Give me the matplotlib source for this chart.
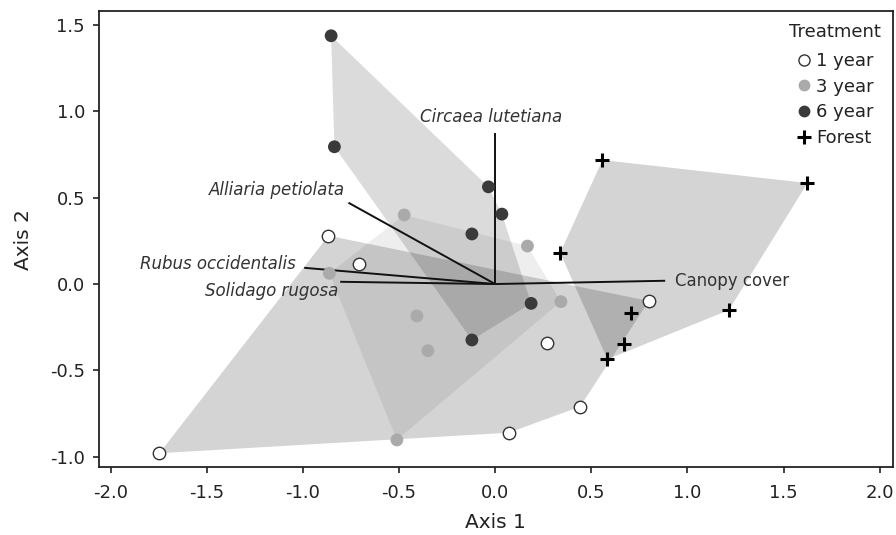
import matplotlib
matplotlib.use("Agg")
import matplotlib.pyplot as plt
from matplotlib.lines import Line2D
from matplotlib.patches import Polygon
import numpy as np

plt.rcParams['font.family'] = ['DejaVu Sans']

# ---- data ----
groups = ["1 year", "3 year", "6 year", "Forest"]

x_1yr = [-0.867, -0.707, -1.746, 0.799, 0.269, 0.442, 0.071]
y_1yr = [0.280, 0.118, -0.980, -0.098, -0.340, -0.710, -0.861]

x_3yr = [-0.473, 0.168, -0.862, 0.342, -0.407, -0.350, -0.511]
y_3yr = [0.400, 0.220, 0.062, -0.102, -0.185, -0.386, -0.903]

x_6yr = [-0.853, -0.836, -0.035, 0.035, -0.121, 0.187, -0.121]
y_6yr = [1.438, 0.795, 0.563, 0.405, 0.290, -0.112, -0.324]

x_for = [0.558, 1.624, 0.338, 0.706, 0.671, 0.584, 1.215]
y_for = [0.718, 0.585, 0.181, -0.166, -0.349, -0.436, -0.151]

vec_names = ["Circaea lutetiana", "Alliaria petiolata", "Rubus occidentalis",
             "Solidago rugosa", "Canopy cover"]
vec_x = [0.0, -0.763, -0.993, -0.806, 0.884]
vec_y = [0.873, 0.471, 0.094, 0.013, 0.019]

xticks = [-2.0, -1.5, -1.0, -0.5, 0.0, 0.5, 1.0, 1.5, 2.0]
yticks = [-1.0, -0.5, 0.0, 0.5, 1.0, 1.5]

# ---- styles ----
hull_alpha = {"1 year": 0.17, "3 year": 0.065, "6 year": 0.14, "Forest": 0.17}
vec_style = {
    "Circaea lutetiana": dict(off=(-4, 16), ha="center", va="center", italic=True),
    "Alliaria petiolata": dict(off=(-3, 13), ha="right", va="center", italic=True),
    "Rubus occidentalis": dict(off=(-8, 4), ha="right", va="center", italic=True),
    "Solidago rugosa": dict(off=(-2, -9), ha="right", va="center", italic=True),
    "Canopy cover": dict(off=(10, 0), ha="left", va="center", italic=False),
}


def convex_hull(xs, ys):
    pts = sorted(set(zip(xs, ys)))
    def cross(o, a, b):
        return (a[0]-o[0])*(b[1]-o[1]) - (a[1]-o[1])*(b[0]-o[0])
    lower, upper = [], []
    for p in pts:
        while len(lower) >= 2 and cross(lower[-2], lower[-1], p) <= 0:
            lower.pop()
        lower.append(p)
    for p in reversed(pts):
        while len(upper) >= 2 and cross(upper[-2], upper[-1], p) <= 0:
            upper.pop()
        upper.append(p)
    return lower[:-1] + upper[:-1]


fig = plt.figure(figsize=(8.96, 5.35), dpi=100)
ax = fig.add_axes([0.1105, 0.127, 0.886, 0.852])

data = {"1 year": (x_1yr, y_1yr), "3 year": (x_3yr, y_3yr),
        "6 year": (x_6yr, y_6yr), "Forest": (x_for, y_for)}

for g in groups:
    xs, ys = data[g]
    hull = convex_hull(xs, ys)
    ax.add_patch(Polygon(hull, closed=True, facecolor="black",
                         alpha=hull_alpha[g], edgecolor="none", zorder=1))

# vectors
for name, vx, vy in zip(vec_names, vec_x, vec_y):
    ax.plot([0, vx], [0, vy], color="#111111", lw=1.4, zorder=2,
            solid_capstyle="butt")
    st = vec_style[name]
    ax.annotate(name, xy=(vx, vy), xytext=st["off"], textcoords="offset pixels",
                ha=st["ha"], va=st["va"], fontsize=12, color="#333333",
                style="italic" if st["italic"] else "normal", zorder=5)

# points
ax.scatter(x_1yr, y_1yr, s=80, facecolor="white", edgecolor="#333333",
           linewidth=1.0, zorder=4)
ax.scatter(x_3yr, y_3yr, s=85, facecolor="#aaaaaa", edgecolor="none", zorder=4)
ax.scatter(x_6yr, y_6yr, s=85, facecolor="#3a3a3a", edgecolor="none", zorder=4)
ax.scatter(x_for, y_for, s=110, marker="+", color="black", linewidth=2.2,
           zorder=4)

ax.set_xlim(-2.06, 2.068)
ax.set_ylim(-1.06, 1.58)
ax.set_xticks(xticks)
ax.set_yticks(yticks)
ax.set_xticklabels([f"{v:.1f}" for v in xticks])
ax.set_yticklabels([f"{v:.1f}" for v in yticks])
ax.tick_params(labelsize=13, colors="#222222", length=4, width=1.2)
ax.tick_params(axis="x", pad=8)
ax.tick_params(axis="y", pad=6)
for s in ax.spines.values():
    s.set_linewidth(1.3)
    s.set_color("#222222")

ax.set_xlabel("Axis 1", fontsize=14.5, color="#222222", labelpad=8)
ax.set_ylabel("Axis 2", fontsize=14.5, color="#222222", labelpad=12)

handles = [
    Line2D([], [], ls="none", marker="o", ms=8, mfc="white", mec="#333333", mew=1.0),
    Line2D([], [], ls="none", marker="o", ms=8.5, mfc="#aaaaaa", mec="none"),
    Line2D([], [], ls="none", marker="o", ms=8.5, mfc="#3a3a3a", mec="none"),
    Line2D([], [], ls="none", marker="+", ms=10, color="black", mew=2.2),
]
leg = ax.legend(handles, groups, title="Treatment", loc="upper right",
                bbox_to_anchor=(1.0, 1.0), frameon=False, fontsize=13,
                title_fontsize=13, handlelength=0.8, handletextpad=0.3,
                labelspacing=0.42, borderaxespad=0.25)
leg._legend_box.align = "center"
leg._legend_box.sep = 8
for t in leg.get_texts():
    t.set_color("#222222")
leg.get_title().set_color("#222222")

fig.savefig("out.png", dpi=100)
